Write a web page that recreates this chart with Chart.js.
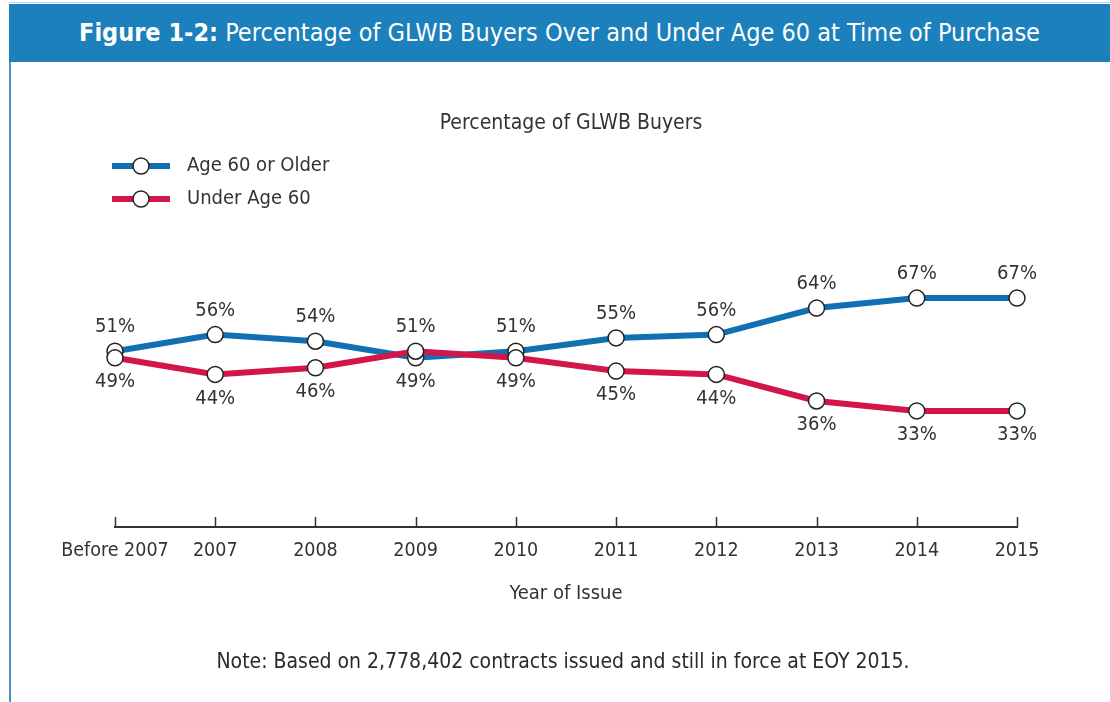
<!DOCTYPE html>
<html>
<head>
<meta charset="utf-8">
<script src="https://cdn.jsdelivr.net/npm/chart.js@4.4.1/dist/chart.umd.min.js"></script>
<style>
  body { margin: 0; background: #fff; width: 1110px; height: 702px; overflow: hidden; position: relative;
         font-family: 'Liberation Sans Narrow', 'DejaVu Sans Condensed', 'Roboto Condensed', sans-serif; }
  #topline { position: absolute; left: 9px; top: 2px; width: 1101px; height: 1px; background: #b7d3ea; }
  #header { position: absolute; left: 9px; top: 4px; width: 1101px; height: 58px; background: #1b80bb;
            color: #fff; font-size: 25px; line-height: 58px; text-align: center; }
  #leftline { position: absolute; left: 9px; top: 62px; width: 2px; height: 640px; background: #4f92c9; }
  #note { position: absolute; left: 0; top: 649px; width: 1126px; text-align: center; font-size: 21px; color: #2a2a2a; }
  #chart { position: absolute; left: 0; top: 0; }
</style>
</head>
<body>
<div id="topline"></div>
<div id="header"><b>Figure 1-2:</b> Percentage of GLWB Buyers Over and Under Age 60 at Time of Purchase</div>
<div id="leftline"></div>
<canvas id="chart" width="1110" height="702"></canvas>
<div id="note">Note: Based on 2,778,402 contracts issued and still in force at EOY 2015.</div>
<script>
const categories = ['Before 2007', '2007', '2008', '2009', '2010', '2011', '2012', '2013', '2014', '2015'];
const age60OrOlder = [51, 56, 54, 49, 51, 55, 56, 64, 67, 67];
const underAge60 = [49, 44, 46, 51, 49, 45, 44, 36, 33, 33];
const seriesNames = ['Age 60 or Older', 'Under Age 60'];
const chartTitle = 'Percentage of GLWB Buyers';
const axisTitle = 'Year of Issue';

const FONT = "'Liberation Sans Narrow', 'DejaVu Sans Condensed', 'Roboto Condensed', sans-serif";
const BLUE = '#1170b2';
const RED = '#d2164a';
const TEXT = '#333';

// ticks pointing up, value labels, title and legend
const decor = {
  id: 'decor',
  afterDatasetsDraw(chart) {
    const ctx = chart.ctx;
    const area = chart.chartArea;
    const xs = chart.scales.x;
    ctx.save();
    ctx.strokeStyle = '#333';
    ctx.lineWidth = 1.5;
    categories.forEach((c, i) => {
      const x = Math.round(xs.getPixelForTick(i)) + 0.5;
      ctx.beginPath();
      ctx.moveTo(x, area.bottom);
      ctx.lineTo(x, area.bottom - 10);
      ctx.stroke();
    });

    ctx.font = '20px ' + FONT;
    ctx.fillStyle = TEXT;
    ctx.textAlign = 'center';
    ctx.textBaseline = 'middle';
    const series = [age60OrOlder, underAge60];
    series.forEach((vals, d) => {
      const meta = chart.getDatasetMeta(d);
      const other = series[1 - d];
      vals.forEach((v, i) => {
        const pt = meta.data[i];
        const dy = v >= other[i] ? -24 : 24;
        ctx.fillText(v + '%', pt.x, pt.y + dy);
      });
    });

    ctx.font = '21px ' + FONT;
    ctx.fillText(chartTitle, 571, 124);

    const colors = [BLUE, RED];
    seriesNames.forEach((name, k) => {
      const y = 166 + k * 33;
      ctx.strokeStyle = colors[k];
      ctx.lineWidth = 6;
      ctx.beginPath();
      ctx.moveTo(112, y);
      ctx.lineTo(170, y);
      ctx.stroke();
      ctx.beginPath();
      ctx.arc(141, y, 8, 0, Math.PI * 2);
      ctx.fillStyle = '#fff';
      ctx.fill();
      ctx.strokeStyle = '#222';
      ctx.lineWidth = 1.5;
      ctx.stroke();
      ctx.fillStyle = TEXT;
      ctx.textAlign = 'left';
      ctx.font = '20px ' + FONT;
      ctx.fillText(name, 187, y);
    });
    ctx.restore();
  }
};

new Chart(document.getElementById('chart'), {
  type: 'line',
  data: {
    labels: categories,
    datasets: [{
      label: seriesNames[0],
      data: age60OrOlder,
      borderColor: BLUE,
      borderWidth: 6,
      pointRadius: 8,
      pointBorderWidth: 1.5,
      pointBorderColor: '#222',
      pointBackgroundColor: '#fff',
      order: 1,
      clip: false
    }, {
      label: seriesNames[1],
      data: underAge60,
      borderColor: RED,
      borderWidth: 6,
      pointRadius: 8,
      pointBorderWidth: 1.5,
      pointBorderColor: '#222',
      pointBackgroundColor: '#fff',
      order: 0,
      clip: false
    }]
  },
  options: {
    responsive: false,
    animation: false,
    layout: { padding: { left: 115, right: 93, top: 255, bottom: 90 } },
    plugins: { legend: { display: false }, title: { display: false }, tooltip: { enabled: false } },
    scales: {
      y: { display: false, min: -2, max: 80 },
      x: {
        offset: false,
        grid: { display: false, drawTicks: false },
        border: { display: true, color: '#333', width: 2 },
        ticks: { color: TEXT, padding: 12, font: { family: FONT, size: 19.5 }, maxRotation: 0, autoSkip: false },
        title: { display: true, text: axisTitle, color: TEXT, font: { family: FONT, size: 20 }, padding: { top: 0, bottom: 6 } },
        afterFit(scale) { scale.height = 85; }
      }
    }
  },
  plugins: [decor]
});
</script>
</body>
</html>
